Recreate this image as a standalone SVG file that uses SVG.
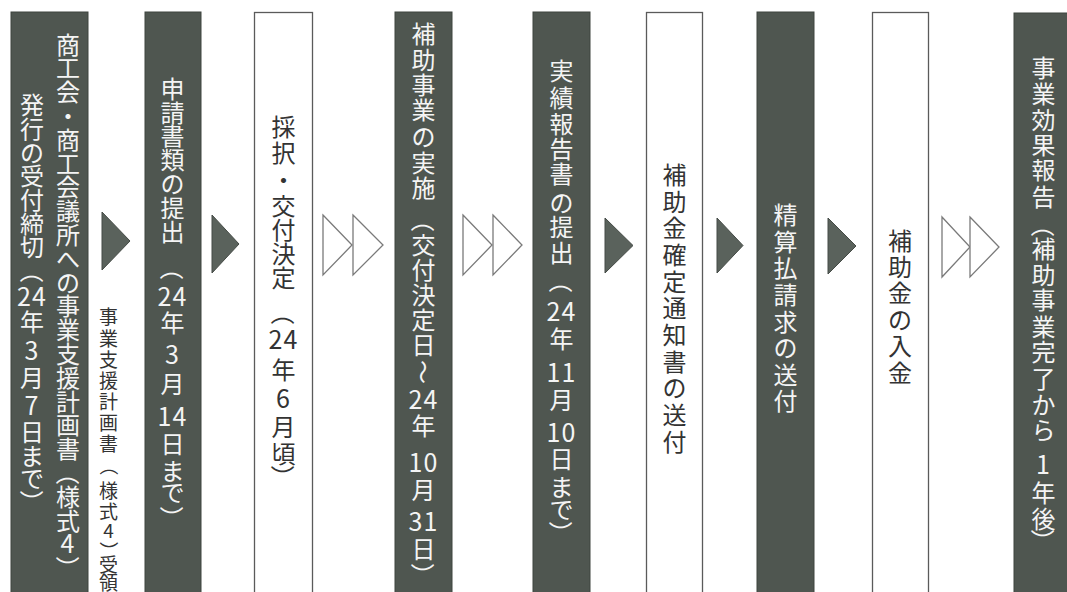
<svg xmlns="http://www.w3.org/2000/svg" width="1067" height="592" viewBox="0 0 1067 592">
<style>
text{font-family:"Noto Sans CJK JP","Noto Sans CJK SC",sans-serif;font-size:24px;text-anchor:middle}
.dk{fill:#4f5650;stroke:#3e443f;stroke-width:1}
.wt{fill:#ffffff;stroke:#5a5a5a;stroke-width:1.3}
.tw{fill:#f4f4f4}
.tk{fill:#333333}
.d{font-size:25px;letter-spacing:1px}
.sm{font-size:19px}
.ad{fill:#5a625c;stroke:#454b46;stroke-width:1}
.ah{fill:#ffffff;stroke:#7a7a7a;stroke-width:1.3}
</style>
<rect width="1067" height="592" fill="#ffffff"/>

<g id="connectors">
<polygon class="ad" points="102,212 130,241 102,270"/>
<polygon class="ad" points="212,215 239,244 212,273"/>
<polygon class="ah" points="323,215 352,245 323,275"/>
<polygon class="ah" points="353,215 383,245 353,275"/>
<polygon class="ah" points="463,215 492,245 463,275"/>
<polygon class="ah" points="493,215 522,245 493,275"/>
<polygon class="ad" points="605,218 633,245.5 605,273"/>
<polygon class="ad" points="717,218 743,245.5 717,273"/>
<polygon class="ad" points="828,218 856,246 828,274"/>
<polygon class="ah" points="942,217 970,247 942,277"/>
<polygon class="ah" points="970,217 999,247 970,277"/>
<text id="label-receipt" class="tk sm"><tspan x="108.5" y="324.2">事</tspan><tspan x="108.5" y="346.2">業</tspan><tspan x="108.5" y="367.2">支</tspan><tspan x="108.5" y="388.2">援</tspan><tspan x="108.5" y="409.2">計</tspan><tspan x="108.5" y="430.2">画</tspan><tspan x="108.5" y="451.2">書</tspan><tspan x="110.8" y="456.5" rotate="90">（</tspan><tspan x="108.5" y="498.2">様</tspan><tspan x="108.5" y="519.2">式</tspan><tspan x="108.5" y="538.2">4</tspan><tspan x="110.8" y="541.5" rotate="90">）</tspan><tspan x="108.5" y="572.2">受</tspan><tspan x="108.5" y="590.2">領</tspan></text>
</g>

<g id="step1">
<rect class="dk" x="11" y="12" width="77" height="600"/>
<text class="tw"><tspan x="68" y="53.6">商</tspan><tspan x="68" y="77.4">工</tspan><tspan x="68" y="101.2">会</tspan><tspan x="68" y="125">・</tspan><tspan x="68" y="148.8">商</tspan><tspan x="68" y="172.6">工</tspan><tspan x="68" y="196.4">会</tspan><tspan x="68" y="220.2">議</tspan><tspan x="68" y="244">所</tspan><tspan x="68" y="267.8">へ</tspan><tspan x="68" y="291.6">の</tspan><tspan x="68" y="315.4">事</tspan><tspan x="68" y="339.2">業</tspan><tspan x="68" y="363">支</tspan><tspan x="68" y="386.8">援</tspan><tspan x="68" y="410.6">計</tspan><tspan x="68" y="434.4">画</tspan><tspan x="68" y="458.2">書</tspan><tspan x="70.9" y="460.9" rotate="90">（</tspan><tspan x="68" y="505.8">様</tspan><tspan x="68" y="529.6">式</tspan><tspan class="d" x="68" y="553.4">4</tspan><tspan x="70.9" y="556.1" rotate="90">）</tspan></text>
<text class="tw"><tspan x="32" y="114.1">発</tspan><tspan x="32" y="137.8">行</tspan><tspan x="32" y="161.5">の</tspan><tspan x="32" y="185.1">受</tspan><tspan x="32" y="208.9">付</tspan><tspan x="32" y="232.6">締</tspan><tspan x="32" y="256.3">切</tspan><tspan x="34.9" y="259" rotate="90">（</tspan><tspan class="d" x="32" y="306.1">24</tspan><tspan x="32" y="331.1">年</tspan><tspan class="d" x="32" y="360.1">3</tspan><tspan x="32" y="387.1">月</tspan><tspan class="d" x="32" y="415.1">7</tspan><tspan x="32" y="441.1">日</tspan><tspan x="32" y="465.1">ま</tspan><tspan x="32" y="488.1">で</tspan><tspan x="34.9" y="490" rotate="90">）</tspan></text>
</g>

<g id="step2">
<rect class="dk" x="145" y="12" width="56" height="600"/>
<text class="tw"><tspan x="172.5" y="97.6">申</tspan><tspan x="172.5" y="121.5">請</tspan><tspan x="172.5" y="145.4">書</tspan><tspan x="172.5" y="169.3">類</tspan><tspan x="172.5" y="193.2">の</tspan><tspan x="172.5" y="217.1">提</tspan><tspan x="172.5" y="241">出</tspan><tspan x="175.4" y="256" rotate="90">（</tspan><tspan class="d" x="172.5" y="306.1">24</tspan><tspan x="172.5" y="332.1">年</tspan><tspan class="d" x="172.5" y="364.1">3</tspan><tspan x="172.5" y="393.1">月</tspan><tspan class="d" x="172.5" y="426.1">14</tspan><tspan x="172.5" y="453.1">日</tspan><tspan x="172.5" y="480.1">ま</tspan><tspan x="172.5" y="502.1">で</tspan><tspan x="175.4" y="506" rotate="90">）</tspan></text>
</g>

<g id="step3">
<rect class="wt" x="254.5" y="12.5" width="58" height="600"/>
<text class="tk"><tspan x="283.5" y="136.1">採</tspan><tspan x="283.5" y="162.1">択</tspan><tspan x="283.5" y="189.1">・</tspan><tspan x="283.5" y="215.1">交</tspan><tspan x="283.5" y="239.1">付</tspan><tspan x="283.5" y="263.1">決</tspan><tspan x="283.5" y="287.1">定</tspan><tspan x="286.4" y="301" rotate="90">（</tspan><tspan class="d" x="283.5" y="349.1">24</tspan><tspan x="283.5" y="379.1">年</tspan><tspan class="d" x="283.5" y="408.1">6</tspan><tspan x="283.5" y="436.1">月</tspan><tspan x="283.5" y="462.6">頃</tspan><tspan x="286.4" y="465" rotate="90">）</tspan></text>
</g>

<g id="step4">
<rect class="dk" x="395" y="12" width="57" height="600"/>
<text class="tw"><tspan x="423.5" y="42.6">補</tspan><tspan x="423.5" y="69.1">助</tspan><tspan x="423.5" y="93.6">事</tspan><tspan x="423.5" y="119.1">業</tspan><tspan x="423.5" y="146.1">の</tspan><tspan x="423.5" y="171.6">実</tspan><tspan x="423.5" y="196.6">施</tspan><tspan x="426.4" y="208" rotate="90">（</tspan><tspan x="423.5" y="254.1">交</tspan><tspan x="423.5" y="279.1">付</tspan><tspan x="423.5" y="304.1">決</tspan><tspan x="423.5" y="329.1">定</tspan><tspan x="423.5" y="354.1">日</tspan><tspan x="426.4" y="360" rotate="90">～</tspan><tspan class="d" x="423.5" y="409.1">24</tspan><tspan x="423.5" y="435.1">年</tspan><tspan class="d" x="423.5" y="472.1">10</tspan><tspan x="423.5" y="499.1">月</tspan><tspan class="d" x="423.5" y="531.1">31</tspan><tspan x="423.5" y="558.1">日</tspan><tspan x="426.4" y="563" rotate="90">）</tspan></text>
</g>

<g id="step5">
<rect class="dk" x="533" y="12" width="57" height="600"/>
<text class="tw"><tspan x="561.5" y="80.1">実</tspan><tspan x="561.5" y="106.6">績</tspan><tspan x="561.5" y="132.6">報</tspan><tspan x="561.5" y="157.6">告</tspan><tspan x="561.5" y="182.6">書</tspan><tspan x="561.5" y="211.6">の</tspan><tspan x="561.5" y="235.6">提</tspan><tspan x="561.5" y="261.6">出</tspan><tspan x="564.4" y="269" rotate="90">（</tspan><tspan class="d" x="561.5" y="321.1">24</tspan><tspan x="561.5" y="347.6">年</tspan><tspan class="d" x="561.5" y="381.6">11</tspan><tspan x="561.5" y="408.6">月</tspan><tspan class="d" x="561.5" y="441.6">10</tspan><tspan x="561.5" y="467.6">日</tspan><tspan x="561.5" y="496.1">ま</tspan><tspan x="561.5" y="519.1">で</tspan><tspan x="564.4" y="521" rotate="90">）</tspan></text>
</g>

<g id="step6">
<rect class="wt" x="646.5" y="12.5" width="56" height="600"/>
<text class="tk"><tspan x="674.5" y="184.1">補</tspan><tspan x="674.5" y="210.8">助</tspan><tspan x="674.5" y="237.4">金</tspan><tspan x="674.5" y="264.1">確</tspan><tspan x="674.5" y="290.7">定</tspan><tspan x="674.5" y="317.4">通</tspan><tspan x="674.5" y="344.1">知</tspan><tspan x="674.5" y="370.7">書</tspan><tspan x="674.5" y="397.3">の</tspan><tspan x="674.5" y="424">送</tspan><tspan x="674.5" y="450.6">付</tspan></text>
</g>

<g id="step7">
<rect class="dk" x="757" y="12" width="57" height="600"/>
<text class="tw"><tspan x="785.5" y="224.1">精</tspan><tspan x="785.5" y="250.7">算</tspan><tspan x="785.5" y="277.3">払</tspan><tspan x="785.5" y="303.9">請</tspan><tspan x="785.5" y="330.5">求</tspan><tspan x="785.5" y="357.1">の</tspan><tspan x="785.5" y="383.7">送</tspan><tspan x="785.5" y="410.3">付</tspan></text>
</g>

<g id="step8">
<rect class="wt" x="872.5" y="12.5" width="56" height="600"/>
<text class="tk"><tspan x="900" y="249.6">補</tspan><tspan x="900" y="276">助</tspan><tspan x="900" y="302.4">金</tspan><tspan x="900" y="328.8">の</tspan><tspan x="900" y="355.2">入</tspan><tspan x="900" y="381.6">金</tspan></text>
</g>

<g id="step9">
<rect class="dk" x="1014" y="13" width="60" height="600"/>
<text class="tw"><tspan x="1043.5" y="76.6">事</tspan><tspan x="1043.5" y="102.6">業</tspan><tspan x="1043.5" y="129.1">効</tspan><tspan x="1043.5" y="154.1">果</tspan><tspan x="1043.5" y="179.1">報</tspan><tspan x="1043.5" y="205.6">告</tspan><tspan x="1046.4" y="213" rotate="90">（</tspan><tspan x="1043.5" y="257.6">補</tspan><tspan x="1043.5" y="284.1">助</tspan><tspan x="1043.5" y="309.1">事</tspan><tspan x="1043.5" y="335.6">業</tspan><tspan x="1043.5" y="360.6">完</tspan><tspan x="1043.5" y="387.6">了</tspan><tspan x="1043.5" y="414.1">か</tspan><tspan x="1043.5" y="439.1">ら</tspan><tspan class="d" x="1043.5" y="474.1">1</tspan><tspan x="1043.5" y="501.6">年</tspan><tspan x="1043.5" y="527.6">後</tspan><tspan x="1046.4" y="529" rotate="90">）</tspan></text>
</g>
</svg>
